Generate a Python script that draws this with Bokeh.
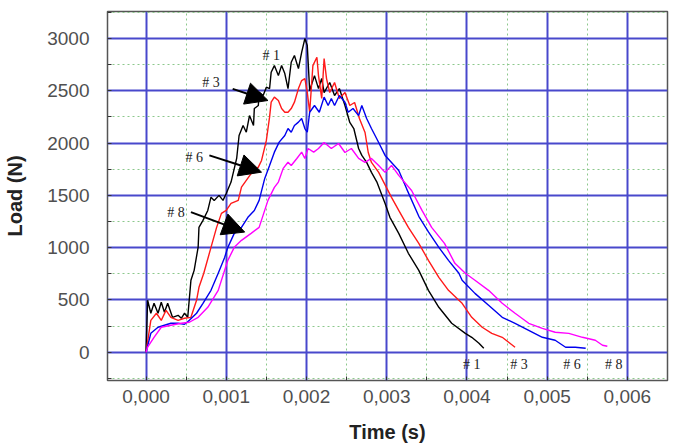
from bokeh.plotting import figure
from bokeh.models import (ColumnDataSource, SingleIntervalTicker, CustomJSTickFormatter,
                          Arrow, NormalHead, Range1d)
from bokeh.core.properties import value
from bokeh.embed import file_html
from bokeh.resources import INLINE

# ---- data (time in s, load in N) ----
t1 = [0.00000, 0.00002, 0.00006, 0.00010, 0.00015, 0.00019, 0.00023, 0.00027, 0.00033, 0.00040,
      0.00044, 0.00048, 0.00052, 0.00056, 0.00060, 0.00065, 0.00066, 0.00071, 0.00077, 0.00081,
      0.00085, 0.00091, 0.00096, 0.00100, 0.00106, 0.00113, 0.00116, 0.00121, 0.00125, 0.00129,
      0.00134, 0.00135, 0.00140, 0.00141, 0.00146, 0.00150, 0.00154, 0.00156, 0.00160, 0.00165,
      0.00169, 0.00173, 0.00177, 0.00181, 0.00185, 0.00190, 0.00194, 0.00198, 0.00201, 0.00204,
      0.00206, 0.00210, 0.00215, 0.00219, 0.00222, 0.00229, 0.00235, 0.00241, 0.00248, 0.00254,
      0.00259, 0.00265, 0.00269, 0.00275, 0.00281, 0.00288, 0.00298, 0.00304, 0.00315, 0.00327,
      0.00340, 0.00352, 0.00365, 0.00381, 0.00398, 0.00406, 0.00415, 0.00421]
load1 = [0, 497, 373, 468, 373, 478, 382, 468, 334, 353,
         325, 373, 334, 688, 783, 1006, 1194, 1261, 1356, 1483,
         1452, 1500, 1452, 1518, 1627, 1853, 2072, 2168, 2104, 2263,
         2168, 2330, 2359, 2486, 2455, 2534, 2521, 2677, 2741, 2645,
         2741, 2665, 2521, 2773, 2837, 2712, 2868, 2999, 2932, 2500,
         2550, 2645, 2521, 2617, 2483, 2579, 2455, 2521, 2359, 2197,
         2139, 1948, 1882, 1815, 1720, 1624, 1423, 1290, 1137, 946,
         783, 592, 430, 277, 181, 143, 86, 38]

t3 = [0.00000, 0.00006, 0.00013, 0.00019, 0.00025, 0.00031, 0.00040, 0.00048, 0.00056, 0.00063,
      0.00066, 0.00072, 0.00081, 0.00088, 0.00094, 0.00100, 0.00106, 0.00115, 0.00119, 0.00131,
      0.00140, 0.00144, 0.00150, 0.00154, 0.00156, 0.00160, 0.00165, 0.00169, 0.00173, 0.00177,
      0.00181, 0.00185, 0.00190, 0.00194, 0.00198, 0.00201, 0.00204, 0.00208, 0.00213, 0.00215,
      0.00219, 0.00222, 0.00225, 0.00229, 0.00235, 0.00241, 0.00248, 0.00254, 0.00260, 0.00266,
      0.00273, 0.00277, 0.00281, 0.00290, 0.00306, 0.00315, 0.00327, 0.00340, 0.00352, 0.00365,
      0.00377, 0.00390, 0.00394, 0.00406, 0.00419, 0.00431, 0.00444, 0.00452, 0.00460]
load3 = [0, 305, 373, 305, 401, 334, 305, 325, 334, 497,
         621, 755, 1003, 1194, 1328, 1356, 1423, 1452, 1579, 1708,
         1770, 1834, 2025, 2248, 2391, 2439, 2407, 2330, 2295, 2295,
         2330, 2391, 2521, 2598, 2617, 2486, 2295, 2741, 2821, 2645,
         2426, 2808, 2617, 2483, 2579, 2426, 2483, 2359, 2388, 2235,
         2101, 1910, 1815, 1720, 1481, 1356, 1194, 1041, 879, 716,
         592, 497, 468, 334, 239, 181, 143, 96, 48]

t6 = [0.00000, 0.00006, 0.00015, 0.00023, 0.00031, 0.00040, 0.00048, 0.00054, 0.00063, 0.00071,
      0.00081, 0.00090, 0.00098, 0.00102, 0.00110, 0.00119, 0.00127, 0.00135, 0.00141, 0.00148,
      0.00154, 0.00160, 0.00166, 0.00173, 0.00177, 0.00181, 0.00185, 0.00190, 0.00194, 0.00198,
      0.00201, 0.00204, 0.00210, 0.00216, 0.00222, 0.00227, 0.00231, 0.00235, 0.00241, 0.00248,
      0.00252, 0.00258, 0.00265, 0.00269, 0.00275, 0.00281, 0.00290, 0.00298, 0.00306, 0.00315,
      0.00325, 0.00340, 0.00352, 0.00365, 0.00377, 0.00390, 0.00394, 0.00410, 0.00427, 0.00444,
      0.00460, 0.00477, 0.00494, 0.00510, 0.00523, 0.00535, 0.00548]
load6 = [0, 181, 239, 258, 277, 277, 267, 305, 373, 468,
         592, 755, 907, 1003, 1137, 1194, 1290, 1356, 1452, 1662,
         1786, 1913, 2009, 2072, 2139, 2104, 2168, 2200, 2235, 2139,
         2104, 2295, 2359, 2295, 2439, 2359, 2426, 2359, 2455, 2391,
         2295, 2330, 2263, 2359, 2235, 2139, 2006, 1882, 1815, 1738,
         1560, 1300, 1150, 1003, 879, 755, 688, 563, 449, 334,
         277, 210, 143, 115, 48, 48, 38]

t8 = [0.00000, 0.00002, 0.00010, 0.00019, 0.00031, 0.00044, 0.00054, 0.00065, 0.00077, 0.00090,
      0.00102, 0.00110, 0.00119, 0.00131, 0.00141, 0.00152, 0.00160, 0.00165, 0.00171, 0.00177,
      0.00181, 0.00188, 0.00194, 0.00198, 0.00202, 0.00209, 0.00215, 0.00222, 0.00231, 0.00240,
      0.00248, 0.00256, 0.00265, 0.00273, 0.00281, 0.00290, 0.00298, 0.00306, 0.00315, 0.00331,
      0.00344, 0.00356, 0.00372, 0.00385, 0.00398, 0.00410, 0.00427, 0.00444, 0.00460, 0.00477,
      0.00494, 0.00510, 0.00527, 0.00544, 0.00560, 0.00569, 0.00575]
load8 = [0, 48, 143, 239, 258, 277, 287, 334, 430, 592,
         879, 1003, 1070, 1137, 1194, 1452, 1576, 1627, 1758, 1817,
         1786, 1853, 1913, 1853, 1948, 1913, 1948, 2006, 1948, 1996,
         1910, 1948, 1853, 1815, 1853, 1786, 1720, 1786, 1691, 1547,
         1356, 1194, 1041, 850, 755, 688, 592, 468, 373, 277,
         229, 191, 181, 143, 115, 67, 57]

series_colors = ["black", "#ff1a1a", "#0000ee", "#ff00ff"]

# annotation labels (specimen numbers)
top_labels = ["# 1", "# 3", "# 6", "# 8"]
top_label_t = [0.00156, 0.00081, 0.00060, 0.000375]
top_label_load = [2837, 2582, 1865, 1340]

bottom_labels = ["# 1", "# 3", "# 6", "# 8"]
bottom_label_t = [0.00406, 0.00465, 0.00531, 0.00583]
bottom_label_load = [-115, -115, -115, -115]

arrow_t_start = [0.00108, 0.00079, 0.00056]
arrow_load_start = [2518, 1882, 1340]
arrow_t_end = [0.00152, 0.00144, 0.00123]
arrow_load_end = [2407, 1722, 1149]

x_ticks_interval = 0.001
y_ticks_interval = 500

p = figure(width=675, height=447, output_backend="svg", toolbar_location=None,
           x_range=Range1d(-0.00048, 0.0065), y_range=Range1d(-270, 3258),
           min_border_left=107, min_border_right=8, min_border_top=11, min_border_bottom=67,
           background_fill_color="white", border_fill_color="white")

p.outline_line_color = "#555555"
p.outline_line_width = 1.5

for t, l, c in zip([t1, t3, t6, t8], [load1, load3, load6, load8], series_colors):
    p.line(t, l, line_color=c, line_width=1.4)

# grids
xt = SingleIntervalTicker(interval=x_ticks_interval, num_minor_ticks=2)
yt = SingleIntervalTicker(interval=y_ticks_interval, num_minor_ticks=2)
p.xaxis.ticker = xt
p.yaxis.ticker = yt
p.xgrid.ticker = xt
p.ygrid.ticker = yt
for g in (p.xgrid, p.ygrid):
    g.grid_line_color = "#4848cc"
    g.grid_line_width = 2
    g.minor_grid_line_color = "#8cc88c"
    g.minor_grid_line_width = 1
    g.minor_grid_line_dash = "2 3"

p.xaxis.formatter = CustomJSTickFormatter(code="return tick.toFixed(3).replace('.', ',');")

for ax in (p.xaxis[0], p.yaxis[0]):
    ax.axis_line_color = None
    ax.major_tick_line_color = None
    ax.minor_tick_in = 4
    ax.minor_tick_out = 0
    ax.minor_tick_line_color = "#333333"
    ax.major_label_text_font = "Liberation Sans"
    ax.major_label_text_font_size = "19px"
    ax.major_label_text_color = "#505050"
    ax.axis_label_text_font = "Liberation Sans"
    ax.axis_label_text_font_size = "20px"
    ax.axis_label_text_font_style = "bold"
    ax.axis_label_text_color = "#222222"

p.xaxis.axis_label = "Time (s)"
p.yaxis.axis_label = "Load (N)"
p.xaxis.major_label_standoff = 3
p.xaxis.axis_label_standoff = 15
p.yaxis.major_label_standoff = 12
p.yaxis.axis_label_standoff = 18

# labels
src_top = ColumnDataSource(dict(x=top_label_t, y=top_label_load, text=top_labels))
p.text(x="x", y="y", text="text", source=src_top, text_font=value("Liberation Serif"),
       text_font_size="14px", text_align="center", text_baseline="middle", text_color="#222222")
src_bot = ColumnDataSource(dict(x=bottom_label_t, y=bottom_label_load, text=bottom_labels))
p.text(x="x", y="y", text="text", source=src_bot, text_font=value("Liberation Serif"),
       text_font_size="14px", text_align="center", text_baseline="middle", text_color="#222222")

for xs, ys, xe, ye in zip(arrow_t_start, arrow_load_start, arrow_t_end, arrow_load_end):
    p.add_layout(Arrow(end=NormalHead(size=22, fill_color="black", line_color="black"),
                       x_start=xs, y_start=ys, x_end=xe, y_end=ye,
                       line_color="black", line_width=2))

open("out.html", "w").write(file_html(p, INLINE))
